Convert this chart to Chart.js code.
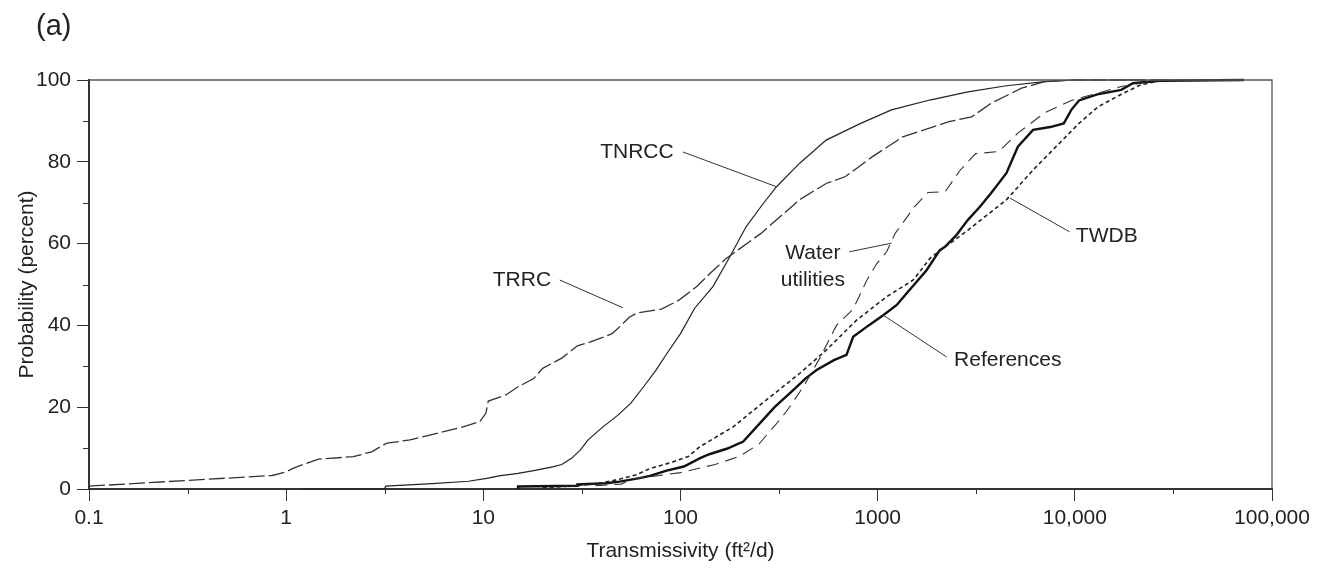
<!DOCTYPE html>
<html><head><meta charset="utf-8">
<script src="https://cdn.jsdelivr.net/npm/chart.js@4.4.1/dist/chart.umd.min.js"></script>
<style>html,body{margin:0;padding:0;background:#fff}#wrap{width:1327px;height:568px;position:relative}</style>
</head><body><div id="wrap"><canvas id="c"></canvas></div>
<script>
// ---------- data ----------
const xTickValues = [0.1, 1, 10, 100, 1000, 10000, 100000];
const xTickLabels = ['0.1', '1', '10', '100', '1000', '10,000', '100,000'];
const xMinorTicks = [0.316, 3.16, 31.6, 316, 3162, 31623];
const yTickValues = [0, 20, 40, 60, 80, 100];
const yMinorTicks = [10, 30, 50, 70, 90];

const trrcX = [0.1, 0.85, 1.0, 1.09, 1.22, 1.46, 2.19, 2.71, 3.24, 4.25, 5.36, 7.9, 9.6, 10.3, 10.6, 13, 15, 18, 20, 25, 30, 35, 40, 45, 50, 55, 60, 80, 97, 121, 141, 171, 256, 401, 548, 687, 937, 1340, 2296, 3000, 3756, 5370, 7030, 10000, 20000, 30000];
const trrcY = [0.7, 3.3, 4.2, 5.1, 6.0, 7.3, 7.9, 9.1, 11.2, 12.0, 13.2, 15.2, 16.5, 18.5, 21.5, 23, 25, 27, 29.5, 32, 35, 36, 37, 38, 40, 42, 43, 44, 46, 49.5, 52.7, 56.4, 62.5, 70.7, 74.7, 76.4, 81.2, 86.1, 89.8, 91, 94.3, 98, 99.6, 100, 100, 100];

const tnrccX = [1.2, 3.15, 3.2, 5.5, 8.4, 10.4, 12, 15, 18, 22.5, 25, 28, 31, 34, 40, 48, 56, 65, 75, 85, 100, 118, 146, 178, 215, 260, 307, 401, 548, 820, 1175, 1837, 2870, 4496, 7030, 10000, 20000];
const tnrccY = [0, 0, 0.7, 1.3, 1.9, 2.6, 3.2, 3.8, 4.5, 5.4, 6, 7.5, 9.5, 12, 15, 18, 21, 25, 29, 33, 38, 44.2, 49.5, 56.8, 64.1, 69.5, 73.9, 79.6, 85.3, 89.4, 92.7, 95.1, 97.1, 98.6, 99.6, 100, 100];

const waterX = [37, 50, 57, 70, 100, 150, 200, 250, 307, 345, 420, 509, 618, 751, 880, 986, 1110, 1227, 1537, 1800, 2200, 2626, 3140, 4110, 5140, 7030, 9600, 17200, 27000];
const waterY = [0.8, 1.2, 2.5, 3, 4, 6, 8, 11, 16, 19, 25, 32, 40, 44, 51, 55, 58, 62.5, 69, 72.5, 72.7, 78, 82, 82.5, 87, 92, 95, 98.4, 100];

const twdbX = [20, 30, 40, 50, 60, 70, 90, 110, 125, 185, 273, 403, 550, 782, 1110, 1515, 1850, 2870, 4496, 6140, 8030, 10500, 13150, 17200, 21500, 28000];
const twdbY = [0.3, 0.8, 1.5, 2.5, 3.5, 5, 6.5, 8, 10.3, 15.2, 21.8, 28.3, 34, 41.3, 47, 51.1, 56.5, 63.3, 70.7, 78, 83.7, 89.4, 93.5, 96.5, 98.8, 100];

const refX = [15, 15, 30, 30, 42, 49, 61, 70, 85, 104, 125, 140, 173, 208, 262, 300, 373, 430, 490, 600, 695, 751, 900, 1067, 1250, 1400, 1770, 2066, 2195, 2500, 2870, 3300, 3756, 4496, 5140, 6140, 7500, 8790, 9600, 10500, 13000, 17200, 19700, 27000, 72000];
const refY = [0, 0.6, 0.8, 1.1, 1.4, 1.8, 2.6, 3.2, 4.5, 5.5, 7.5, 8.5, 9.9, 11.6, 16.9, 20, 24.2, 27, 29.1, 31.5, 32.8, 37.2, 40, 42.5, 45, 47.8, 53.5, 58.4, 59.2, 62, 65.8, 69, 72.3, 77.2, 83.7, 87.8, 88.5, 89.4, 92.7, 95, 96.5, 97.6, 99.2, 99.8, 100];

// callout labels (data coordinates)
const callouts = [
  { text: ['TNRCC'], at: [60.1, 82.4], line: [[102.8, 82.4], [307, 73.9]] },
  { text: ['TRRC'], at: [15.7, 51.1], line: [[24.4, 51.1], [51.1, 44.3]] },
  { text: ['Water', 'utilities'], at: [469, 54.4], line: [[718, 58.0], [1175, 60.1]] },
  { text: ['TWDB'], at: [14520, 61.7], line: [[9400, 62.9], [4700, 71.1]] },
  { text: ['References'], at: [4570, 31.5], line: [[2235, 32.3], [1067, 42.5]] }
];

const pts = (xs, ys) => xs.map((x, i) => ({ x: x, y: ys[i] }));
const FONT = '"Liberation Sans", Arial, sans-serif';

const decor = {
  id: 'decor',
  afterDraw(chart) {
    const { ctx, chartArea: a, scales } = chart;
    const xs = scales.x, ys = scales.y;
    ctx.save();
    ctx.strokeStyle = '#555'; ctx.lineWidth = 1.3;
    ctx.beginPath();
    ctx.moveTo(a.left, a.top); ctx.lineTo(a.right, a.top); ctx.lineTo(a.right, a.bottom);
    ctx.stroke();
    ctx.strokeStyle = '#333'; ctx.lineWidth = 1;
    ctx.beginPath();
    yMinorTicks.forEach(v => { const p = Math.round(ys.getPixelForValue(v)) + 0.5; ctx.moveTo(a.left - 6, p); ctx.lineTo(a.left, p); });
    xMinorTicks.forEach(v => { const p = Math.round(xs.getPixelForValue(v)) + 0.5; ctx.moveTo(p, a.bottom); ctx.lineTo(p, a.bottom + 5); });
    ctx.stroke();
    ctx.font = '21px ' + FONT;
    ctx.fillStyle = '#222';
    ctx.textAlign = 'center'; ctx.textBaseline = 'middle';
    callouts.forEach(c => {
      const cx = xs.getPixelForValue(c.at[0]), cy = ys.getPixelForValue(c.at[1]);
      const n = c.text.length;
      c.text.forEach((t, i) => ctx.fillText(t, cx, cy + (i - (n - 1) / 2) * 27));
      ctx.strokeStyle = '#333'; ctx.lineWidth = 1;
      ctx.beginPath();
      ctx.moveTo(xs.getPixelForValue(c.line[0][0]), ys.getPixelForValue(c.line[0][1]));
      ctx.lineTo(xs.getPixelForValue(c.line[1][0]), ys.getPixelForValue(c.line[1][1]));
      ctx.stroke();
    });
    ctx.font = '29px ' + FONT;
    ctx.textAlign = 'left';
    ctx.fillText('(a)', 36, 27);
    ctx.restore();
  }
};

new Chart(document.getElementById('c'), {
  type: 'line',
  data: {
    datasets: [
      { label: 'TRRC', data: pts(trrcX, trrcY), borderColor: '#333', borderWidth: 1.3, borderDash: [16, 4] },
      { label: 'TNRCC', data: pts(tnrccX, tnrccY), borderColor: '#222', borderWidth: 1.2 },
      { label: 'Water utilities', data: pts(waterX, waterY), borderColor: '#333', borderWidth: 1.1, borderDash: [12, 7] },
      { label: 'TWDB', data: pts(twdbX, twdbY), borderColor: '#222', borderWidth: 1.6, borderDash: [4, 3] },
      { label: 'References', data: pts(refX, refY), borderColor: '#111', borderWidth: 2.4 }
    ]
  },
  options: {
    responsive: true, maintainAspectRatio: false, animation: false,
    elements: { point: { radius: 0 }, line: { tension: 0, fill: false } },
    datasets: { line: { clip: 3 } },
    layout: { padding: { left: 0, right: 55, top: 80, bottom: 0 } },
    plugins: { legend: { display: false }, tooltip: { enabled: false } },
    scales: {
      x: {
        type: 'logarithmic', min: 0.1, max: 100000,
        afterBuildTicks: s => { s.ticks = xTickValues.map(v => ({ value: v })); },
        afterFit: s => { s.height = 79; },
        ticks: {
          autoSkip: false, maxRotation: 0, padding: 5, color: '#222',
          font: { family: FONT, size: 21 },
          callback: (v) => { const i = xTickValues.findIndex(t => Math.abs(t - v) / t < 1e-6); return i >= 0 ? xTickLabels[i] : ''; }
        },
        grid: { drawOnChartArea: false, drawTicks: true, tickLength: 12, color: '#333', tickWidth: 1 },
        border: { display: true, width: 2, color: '#333' },
        title: { display: true, text: 'Transmissivity (ft²/d)', color: '#222', font: { family: FONT, size: 21 }, padding: { top: 0, bottom: 4 } }
      },
      y: {
        min: 0, max: 100,
        afterBuildTicks: s => { s.ticks = yTickValues.map(v => ({ value: v })); },
        afterFit: s => { s.width = 89; },
        ticks: { padding: 6, color: '#222', font: { family: FONT, size: 21 } },
        grid: { drawOnChartArea: false, drawTicks: true, tickLength: 12, color: '#333', tickWidth: 1 },
        border: { display: true, width: 2, color: '#333' },
        title: { display: true, text: 'Probability (percent)', color: '#222', font: { family: FONT, size: 21 }, padding: { top: 15, bottom: 0 } }
      }
    }
  },
  plugins: [decor]
});
</script>
</body></html>
